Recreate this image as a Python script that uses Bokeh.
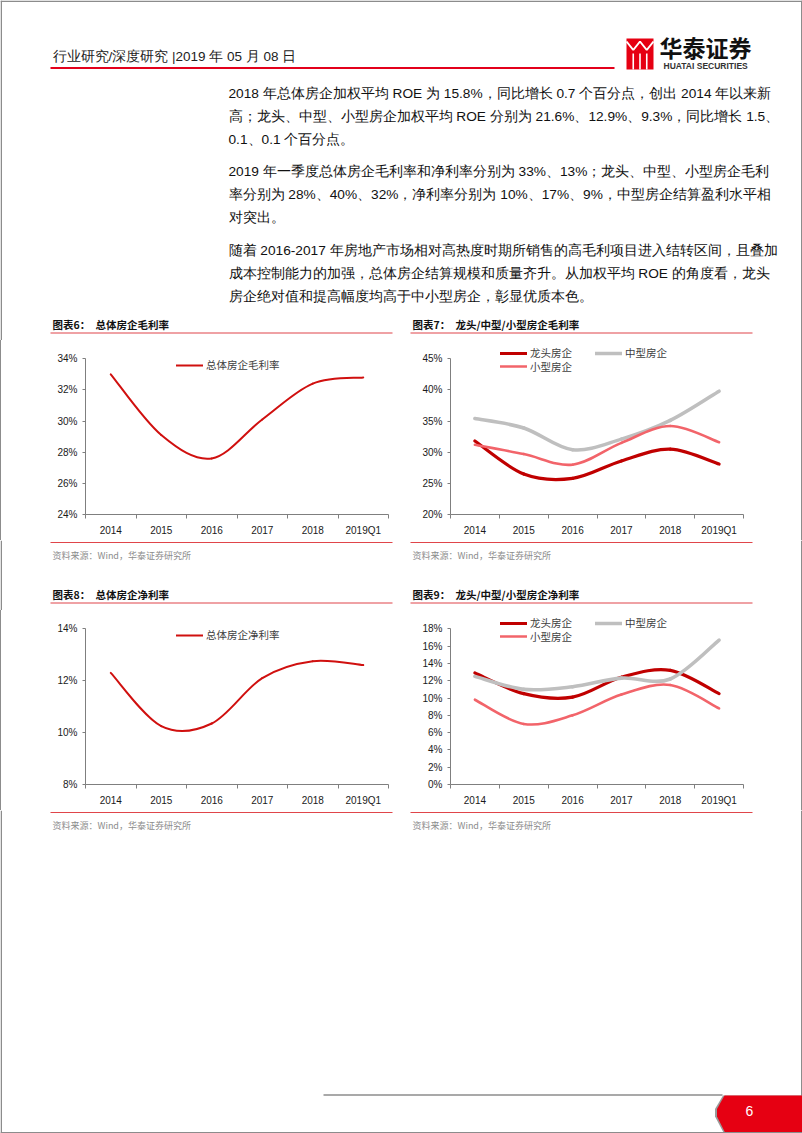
import numpy as np
from bokeh.plotting import figure
from bokeh.models import (Range1d, FixedTicker, PrintfTickFormatter, CustomJSTickFormatter,
                          Legend, LegendItem, Spacer)
from bokeh.layouts import column, row
from bokeh.core.properties import value
from bokeh.embed import file_html
from bokeh.resources import INLINE

# ---------------- data ----------------
categories = ["2014", "2015", "2016", "2017", "2018", "2019Q1"]

gross_total = [33.0, 29.1, 27.6, 30.1, 32.4, 32.8]        # 图表6 总体房企毛利率 (%)
gross_leader = [31.8, 26.5, 25.8, 28.6, 30.5, 28.1]       # 图表7 龙头房企
gross_mid = [35.4, 33.9, 30.4, 32.1, 35.1, 39.8]          # 图表7 中型房企
gross_small = [31.2, 29.7, 28.0, 31.5, 34.2, 31.6]        # 图表7 小型房企

net_total = [12.3, 10.25, 10.35, 12.1, 12.75, 12.6]       # 图表8 总体房企净利率 (%)
net_leader = [12.9, 10.5, 10.1, 12.4, 13.2, 10.5]         # 图表9 龙头房企
net_mid = [12.5, 11.0, 11.3, 12.3, 12.2, 16.7]            # 图表9 中型房企
net_small = [9.8, 7.0, 8.0, 10.4, 11.5, 8.8]              # 图表9 小型房企

header_text = "行业研究/深度研究  |2019 年 05 月 08 日"
body_lines = [
    "2018 年总体房企加权平均 ROE 为 15.8%，同比增长 0.7 个百分点，创出 2014 年以来新",
    "高；龙头、中型、小型房企加权平均 ROE 分别为 21.6%、12.9%、9.3%，同比增长 1.5、",
    "0.1、0.1 个百分点。",
    "2019 年一季度总体房企毛利率和净利率分别为 33%、13%；龙头、中型、小型房企毛利",
    "率分别为 28%、40%、32%，净利率分别为 10%、17%、9%，中型房企结算盈利水平相",
    "对突出。",
    "随着 2016-2017 年房地产市场相对高热度时期所销售的高毛利项目进入结转区间，且叠加",
    "成本控制能力的加强，总体房企结算规模和质量齐升。从加权平均 ROE 的角度看，龙头",
    "房企绝对值和提高幅度均高于中小型房企，彰显优质本色。",
]
body_y = [93, 116, 139, 171, 194, 217, 250, 273, 296]
source_text = "资料来源：Wind，华泰证券研究所"

# ---------------- styles ----------------
W = 802
CH_H = 200
FRAME_TOP = 5
RED_DARK = "#C00000"
RED_MAIN = "#D0100F"
RED_LIGHT = "#F2646A"
GREY = "#BFBFBF"
AXIS = "#7F7F7F"
BORDER = "#8C8C8C"
RULE = "#E0454A"
LATIN = "Liberation Sans"
CJK = "Noto Sans CJK SC"


def page_fig(h):
    p = figure(width=W, height=h, x_range=Range1d(0, W), y_range=Range1d(h, 0),
               x_axis_type=None, y_axis_type=None, toolbar_location=None,
               output_backend="svg", min_border=0, outline_line_color=None)
    p.segment(x0=[0.75, 801.25], y0=[0, 0], x1=[0.75, 801.25], y1=[h, h],
              line_color=BORDER, line_width=1.5)
    return p


def txt(p, x, y, s, size, color="#1a1a1a", font=LATIN, style="normal", align="left"):
    p.text(x=[x], y=[y], text=[s], text_font=value(font), text_font_size=value(f"{size}px"),
           text_color=color, text_font_style=value(style), text_align=align,
           text_baseline="middle")


def smooth(p, xs, ys, color, width):
    n = len(xs)
    x0, y0, x1, y1, cx0, cy0, cx1, cy1 = [], [], [], [], [], [], [], []
    for i in range(n - 1):
        a, b = max(i - 1, 0), min(i + 2, n - 1)
        x0.append(xs[i]); y0.append(ys[i]); x1.append(xs[i + 1]); y1.append(ys[i + 1])
        cx0.append(xs[i] + (xs[i + 1] - xs[a]) / 6.0)
        cy0.append(ys[i] + (ys[i + 1] - ys[a]) / 6.0)
        cx1.append(xs[i + 1] - (xs[b] - xs[i]) / 6.0)
        cy1.append(ys[i + 1] - (ys[b] - ys[i]) / 6.0)
    return p.bezier(x0=x0, y0=y0, x1=x1, y1=y1, cx0=cx0, cy0=cy0, cx1=cx1, cy1=cy1,
                    line_color=color, line_width=width, line_cap="round")


def make_chart(series, ymin, ymax, ystep, left_b, frame_w, bottom_b, top_px, legends):
    n = len(categories)
    px_per = (CH_H - bottom_b - top_px) / (ymax - ymin)
    y_end = ymax + (top_px - FRAME_TOP) / px_per
    p = figure(width=400, height=CH_H, x_range=Range1d(0, n), y_range=Range1d(ymin, y_end),
               min_border_left=left_b, min_border_right=400 - left_b - frame_w,
               min_border_top=FRAME_TOP, min_border_bottom=bottom_b,
               toolbar_location=None, output_backend="svg", outline_line_color=None)
    p.grid.visible = False
    xs = [i + 0.5 for i in range(n)]
    xa = p.xaxis[0]
    xa.ticker = FixedTicker(ticks=xs, minor_ticks=list(range(n + 1)))
    xa.formatter = CustomJSTickFormatter(
        args=dict(labels=categories),
        code="const i = Math.floor(tick); return (i >= 0 && i < labels.length) ? labels[i] : '';")
    xa.major_tick_in = 0
    xa.major_tick_out = 0
    xa.minor_tick_in = 0
    xa.minor_tick_out = 4
    xa.minor_tick_line_color = AXIS
    xa.axis_line_color = AXIS
    xa.major_label_standoff = 6
    ya = p.yaxis[0]
    ya.ticker = FixedTicker(ticks=list(range(ymin, ymax + 1, ystep)))
    ya.formatter = PrintfTickFormatter(format="%d%%")
    ya.bounds = (ymin, ymax)
    ya.major_tick_in = 0
    ya.major_tick_out = 3
    ya.major_tick_line_color = AXIS
    ya.minor_tick_line_color = None
    ya.axis_line_color = AXIS
    ya.major_label_standoff = 5
    for ax in (xa, ya):
        ax.major_label_text_font = LATIN
        ax.major_label_text_font_size = "10px"
        ax.major_label_text_color = "#1a1a1a"
    rends = {}
    for label, vals, color, width in series:
        rends[label] = smooth(p, xs, vals, color, width)
    for (lx, ly, labels) in legends:
        lg = Legend(items=[LegendItem(label=l, renderers=[rends[l]], index=0) for l in labels],
                    location=(lx, ly), orientation="horizontal", spacing=23,
                    padding=0, margin=0, border_line_alpha=0, background_fill_alpha=0,
                    glyph_width=27, glyph_height=14, label_height=14, label_standoff=3,
                    label_text_font=CJK, label_text_font_size="10.5px",
                    label_text_color="#404040")
        p.add_layout(lg)
    return p


# ---------------- page top ----------------
top = page_fig(340)
top.segment(x0=[0], y0=[0.75], x1=[W], y1=[0.75], line_color=BORDER, line_width=1.5)
txt(top, 52, 56, header_text, 13.5, color="#222")
top.segment(x0=[50], y0=[67.5], x1=[614], y1=[67.5], line_color="#E3001B", line_width=1.8)
# logo
top.quad(left=[626], right=[653], top=[38], bottom=[69], fill_color="#E60012", line_color=None)
top.multi_line(xs=[[626, 632.75, 639.5, 646.25, 653]], ys=[[41, 49.5, 41, 49.5, 41]],
               line_color="white", line_width=2)
top.segment(x0=[632.75, 639.5, 646.25], y0=[53, 53, 53], x1=[632.75, 639.5, 646.25],
            y1=[69, 69, 69], line_color="white", line_width=1.6)
txt(top, 659, 46, "华泰证券", 23, color="#111", font=CJK, style="bold")
txt(top, 663, 65.5, "HUATAI SECURITIES", 8.5, color="#333", style="bold")
# body
for s, y in zip(body_lines, body_y):
    txt(top, 228, y, s, 13.7, color="#111")
# chart titles
txt(top, 52, 324, "图表6：", 10.5, color="#111", font=CJK, style="bold")
txt(top, 95, 324, "总体房企毛利率", 10.5, color="#111", font=CJK, style="bold")
txt(top, 412, 324, "图表7：", 10.5, color="#111", font=CJK, style="bold")
txt(top, 455, 324, "龙头/中型/小型房企毛利率", 10.5, color="#111", font=CJK, style="bold")
top.segment(x0=[50, 410], y0=[332.5, 332.5], x1=[392, 752], y1=[332.5, 332.5],
            line_color=RULE, line_width=1.2)

# ---------------- charts row 1 ----------------
c6 = make_chart([("总体房企毛利率", gross_total, RED_MAIN, 2)],
                24, 34, 2, 84, 303, 25, 18.3, [(91, 142, ["总体房企毛利率"])])
c7 = make_chart([("龙头房企", gross_leader, RED_DARK, 3.2),
                 ("中型房企", gross_mid, GREY, 3.6),
                 ("小型房企", gross_small, RED_LIGHT, 2.6)],
                20, 45, 5, 49, 293, 26, 18.3,
                [(50, 153.7, ["龙头房企", "中型房企"]), (50, 140.3, ["小型房企"])])

# ---------------- middle ----------------
mid = page_fig(70)
mid.segment(x0=[50, 410], y0=[2, 2], x1=[392, 752], y1=[2, 2], line_color=RULE, line_width=1.2)
txt(mid, 52, 14.5, source_text, 9, color="#8C8C8C", font=CJK)
txt(mid, 412, 14.5, source_text, 9, color="#8C8C8C", font=CJK)
txt(mid, 52, 54, "图表8：", 10.5, color="#111", font=CJK, style="bold")
txt(mid, 95, 54, "总体房企净利率", 10.5, color="#111", font=CJK, style="bold")
txt(mid, 412, 54, "图表9：", 10.5, color="#111", font=CJK, style="bold")
txt(mid, 455, 54, "龙头/中型/小型房企净利率", 10.5, color="#111", font=CJK, style="bold")
mid.segment(x0=[50, 410], y0=[62.5, 62.5], x1=[392, 752], y1=[62.5, 62.5],
            line_color=RULE, line_width=1.2)

# ---------------- charts row 2 ----------------
c8 = make_chart([("总体房企净利率", net_total, RED_MAIN, 2)],
                8, 14, 2, 84, 303, 25, 18.3, [(91, 142, ["总体房企净利率"])])
c9 = make_chart([("龙头房企", net_leader, RED_DARK, 3.2),
                 ("中型房企", net_mid, GREY, 3.6),
                 ("小型房企", net_small, RED_LIGHT, 2.6)],
                0, 18, 2, 49, 293, 26, 18.3,
                [(50, 153.7, ["龙头房企", "中型房企"]), (50, 140.3, ["小型房企"])])

# ---------------- bottom ----------------
BH = 323
bot = page_fig(BH)
bot.segment(x0=[50, 410], y0=[2, 2], x1=[392, 752], y1=[2, 2], line_color=RULE, line_width=1.2)
txt(bot, 52, 14.5, source_text, 9, color="#8C8C8C", font=CJK)
txt(bot, 412, 14.5, source_text, 9, color="#8C8C8C", font=CJK)
bot.segment(x0=[323], y0=[284.5], x1=[722], y1=[284.5], line_color="#8C8C8C", line_width=1.5)
bot.patch(x=[722.5, 802, 802, 723.5, 714.5, 714.5], y=[285, 285, 323, 323, 306, 298.5],
          fill_color="#9A9A9A", line_color=None)
bot.patch(x=[724, 802, 802, 725, 716.5, 716.5], y=[285, 285, 323, 323, 306, 298.5],
          fill_color="#E60012", line_color=None)
txt(bot, 749, 300, "6", 14, color="white", align="center")
bot.segment(x0=[0], y0=[BH - 0.75], x1=[W], y1=[BH - 0.75], line_color=BORDER, line_width=1.5)


def vsp():
    return Spacer(width=1, height=CH_H, styles={"background-color": BORDER})


layout = column(top, row(vsp(), c6, c7, vsp()), mid, row(vsp(), c8, c9, vsp()), bot)

open("out.html", "w").write(file_html(layout, INLINE, "华泰证券"))
